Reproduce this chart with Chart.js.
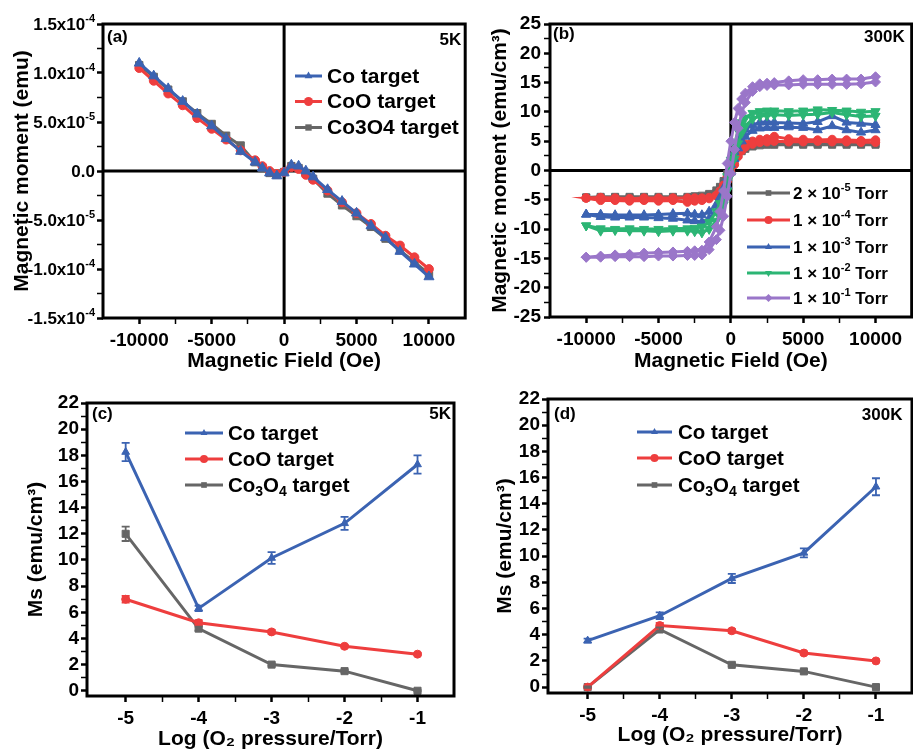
<!DOCTYPE html>
<html><head><meta charset="utf-8">
<script src="https://cdn.jsdelivr.net/npm/chart.js@4.4.1/dist/chart.umd.min.js"></script>
<style>
html,body{margin:0;padding:0;background:#fff;overflow:hidden;width:913px;height:752px;}
canvas{position:absolute;}
</style></head><body>
<canvas id="ca" style="left:0px;top:0px" width="472" height="376"></canvas>
<canvas id="cb" style="left:460px;top:0px" width="458" height="376"></canvas>
<canvas id="cc" style="left:0px;top:380px" width="460" height="372"></canvas>
<canvas id="cd" style="left:460px;top:380px" width="458" height="372"></canvas>
<script>
// ---------------- DATA ----------------
// Panel (a): 5K, magnetic moment (emu) vs field (Oe)
const aField = [-10000,-9000,-8000,-7000,-6000,-5000,-4000,-3000,-2000,-1500,-1000,-500,0,500,1000,1500,2000,3000,4000,5000,6000,7000,8000,9000,10000];
const aCo    = [11.0e-5,9.7e-5,8.4e-5,7.1e-5,5.8e-5,4.6e-5,3.3e-5,2.0e-5,0.9e-5,0.3e-5,-0.2e-5,-0.5e-5,-0.2e-5,0.6e-5,0.5e-5,0.0,-0.6e-5,-1.9e-5,-3.1e-5,-4.3e-5,-5.6e-5,-6.8e-5,-8.2e-5,-9.5e-5,-10.8e-5];
const aCoO   = [10.5e-5,9.2e-5,7.9e-5,6.7e-5,5.4e-5,4.3e-5,3.2e-5,2.1e-5,1.1e-5,0.5e-5,0.0,-0.3e-5,-0.1e-5,0.4e-5,0.2e-5,-0.4e-5,-0.9e-5,-2.0e-5,-3.2e-5,-4.3e-5,-5.4e-5,-6.6e-5,-7.6e-5,-8.8e-5,-10.0e-5];
const aCo3O4 = [10.8e-5,9.6e-5,8.3e-5,7.1e-5,5.9e-5,4.8e-5,3.6e-5,2.6e-5,0.9e-5,0.3e-5,-0.2e-5,-0.4e-5,-0.1e-5,0.5e-5,0.3e-5,-0.2e-5,-0.8e-5,-2.3e-5,-3.5e-5,-4.6e-5,-5.7e-5,-6.9e-5,-8.1e-5,-9.3e-5,-10.5e-5];
const aNames = ['Co target','CoO target','Co3O4 target'];
const aXTicks = [-10000,-7500,-5000,-2500,0,2500,5000,7500,10000];
const aXTickLabels = ['-10000','','-5000','','0','','5000','','10000'];
const aYTicks = [-1.5e-4,-1.25e-4,-1.0e-4,-7.5e-5,-5.0e-5,-2.5e-5,0,2.5e-5,5.0e-5,7.5e-5,1.0e-4,1.25e-4,1.5e-4];
const aYTickMant = ['-1.5x10','','-1.0x10','','-5.0x10','','0.0','','5.0x10','','1.0x10','','1.5x10'];
const aYTickExp  = ['-4','','-4','','-5','','','','-5','','-4','','-4'];

// Panel (b): 300K, emu/cm3 vs field, loops (down branch then up branch)
const bFieldDown = [10000,9000,8000,7000,6000,5000,4000,3000,2500,2000,1500,1000,750,500,250,0,-250,-500,-750,-1000,-1500,-2000,-2500,-3000,-4000,-5000,-6000,-7000,-8000,-9000,-10000];
const bFieldUp   = [-10000,-9000,-8000,-7000,-6000,-5000,-4000,-3000,-2500,-2000,-1500,-1000,-750,-500,-250,0,250,500,750,1000,1500,2000,2500,3000,4000,5000,6000,7000,8000,9000,10000];
const b2e5Down = [4.6,4.6,4.6,4.6,4.6,4.6,4.6,4.7,4.6,4.5,4.3,4.0,3.6,3.0,2.0,0.8,-0.6,-1.8,-2.8,-3.4,-4.0,-4.3,-4.4,-4.5,-4.5,-4.5,-4.5,-4.5,-4.5,-4.5,-4.6];
const b2e5Up   = [-4.6,-4.7,-4.7,-4.7,-4.7,-4.7,-4.7,-4.7,-4.7,-4.6,-4.3,-3.8,-3.2,-2.2,-1.0,0.4,1.6,2.7,3.3,3.7,4.1,4.3,4.4,4.4,4.4,4.4,4.4,4.4,4.4,4.4,4.4];
const b1e4Down = [5.2,5.1,5.2,5.3,5.2,5.3,5.4,5.8,5.4,5.3,5.0,4.5,4.0,3.2,2.0,0.6,-1.0,-2.5,-3.5,-4.2,-4.6,-4.7,-4.7,-4.7,-4.7,-4.7,-4.7,-4.8,-4.7,-4.6,-4.7];
const b1e4Up   = [-4.7,-5.1,-5.1,-5.2,-5.1,-5.2,-5.1,-5.4,-5.2,-5.1,-4.8,-4.3,-3.8,-3.0,-1.8,-0.4,1.0,2.4,3.4,4.0,4.5,4.8,4.9,5.0,4.9,4.9,5.0,4.9,4.9,4.8,4.8];
const b1e3Down = [7.8,8.0,8.2,9.3,8.3,8.0,8.1,8.2,8.3,8.2,7.8,7.0,6.2,5.0,3.2,1.0,-1.2,-3.0,-4.6,-5.8,-7.0,-7.6,-7.5,-7.3,-7.4,-7.5,-7.6,-7.6,-7.6,-7.5,-7.5];
const b1e3Up   = [-7.5,-7.9,-8.0,-8.0,-8.0,-8.1,-8.2,-8.5,-8.6,-8.8,-8.2,-7.0,-6.0,-4.6,-2.6,-0.3,2.0,3.8,5.0,5.8,6.8,7.2,7.3,7.3,7.4,7.3,6.9,7.6,6.9,6.5,6.9];
const b1e2Down = [10.1,10.0,10.2,10.3,10.4,10.2,10.1,10.2,10.2,10.1,9.8,9.0,8.2,6.8,4.5,1.8,-1.0,-3.6,-5.6,-7.0,-8.8,-9.6,-9.8,-9.9,-9.9,-10.0,-10.0,-9.9,-10.0,-9.9,-9.4];
const b1e2Up   = [-9.4,-10.3,-10.2,-10.3,-10.3,-10.4,-10.3,-10.3,-10.4,-10.6,-10.0,-8.6,-7.4,-5.8,-3.5,-0.8,2.0,4.6,6.4,7.6,8.8,9.3,9.4,9.5,9.4,9.5,9.6,9.9,9.5,9.2,9.3];
const b1e1Down = [16.0,15.6,15.6,15.6,15.5,15.5,15.3,15.0,14.9,14.8,14.3,13.2,12.2,10.6,8.2,5.0,1.2,-3.5,-7.0,-9.6,-12.2,-13.6,-13.7,-13.8,-13.9,-14.0,-14.1,-14.3,-14.4,-14.6,-14.8];
const b1e1Up   = [-14.8,-14.8,-14.7,-14.7,-14.7,-14.6,-14.6,-14.5,-14.5,-14.4,-13.5,-11.8,-10.2,-7.8,-4.4,-0.5,3.6,7.2,9.8,11.6,13.5,14.3,14.5,14.6,14.6,14.7,14.7,14.7,14.7,14.8,15.1];
const bMantissa = ['2','1','1','1','1'];
const bExponent = ['-5','-4','-3','-2','-1'];
const bXTicks = [-10000,-7500,-5000,-2500,0,2500,5000,7500,10000];
const bXTickLabels = ['-10000','','-5000','','0','','5000','','10000'];
const bYTicks = [-25,-22.5,-20,-17.5,-15,-12.5,-10,-7.5,-5,-2.5,0,2.5,5,7.5,10,12.5,15,17.5,20,22.5,25];
const bYTickLabels = ['-25','','-20','','-15','','-10','','-5','','0','','5','','10','','15','','20','','25'];

// Panels (c) 5K and (d) 300K: Ms vs log(O2 pressure)
const logP = [-5,-4,-3,-2,-1];
const cCo       = [18.25,6.3,10.15,12.8,17.3];
const cCoErr    = [0.7,0.2,0.45,0.5,0.7];
const cCoO      = [7.0,5.2,4.5,3.4,2.8];
const cCoOErr   = [0.25,0.2,0.15,0.1,0.1];
const cCo3O4    = [12.0,4.75,2.0,1.5,0.0];
const cCo3O4Err = [0.55,0.15,0.1,0.1,0.05];
const dCo       = [3.55,5.45,8.3,10.25,15.3];
const dCoErr    = [0.15,0.25,0.35,0.35,0.65];
const dCoO      = [0.0,4.7,4.3,2.6,2.0];
const dCoOErr   = [0.05,0.2,0.15,0.1,0.1];
const dCo3O4    = [0.0,4.4,1.7,1.2,0.0];
const dCo3O4Err = [0.05,0.15,0.1,0.1,0.05];
const cdXTicks = [-5,-4.5,-4,-3.5,-3,-2.5,-2,-1.5,-1];
const cdXTickLabels = ['-5','','-4','','-3','','-2','','-1'];
const cdYTicks = [0,1,2,3,4,5,6,7,8,9,10,11,12,13,14,15,16,17,18,19,20,21,22];
const cdYTickLabels = ['0','','2','','4','','6','','8','','10','','12','','14','','16','','18','','20','','22'];

// ---------------- STYLE ----------------
const FONT = '"Liberation Sans", Arial, Helvetica, sans-serif';
const BLUE = '#3b63b2', RED = '#ee3e3e', GRAY = '#666666', GREEN = '#2cb574', PURPLE = '#9a76c9';
const SUP = {'-': '\u207B', '0': '\u2070', '1': '\u00B9', '2': '\u00B2', '3': '\u00B3', '4': '\u2074', '5': '\u2075'};

function pts(xs, ys) { return xs.map((x, i) => ({x: x, y: ys[i]})); }

function mkScale(o) {
  return {
    type: 'linear', min: o.min, max: o.max, position: o.pos,
    afterBuildTicks: s => { s.ticks = o.ticks.map(v => ({value: v})); },
    afterFit: s => { if (o.pos === 'left') s.width = o.size; else s.height = o.size; },
    ticks: { callback: (v, i) => o.labels[i], color: o.hideLabels ? 'rgba(0,0,0,0)' : '#000', autoSkip: false, maxRotation: 0, minRotation: 0,
      font: {family: FONT, weight: 'bold', size: o.tickSize || 19}, padding: o.tickPad },
    grid: { display: true, drawOnChartArea: false, drawTicks: true, tickLength: 6, tickColor: '#000',
      tickWidth: c => (c.tick && c.tick.label === '') ? 1.5 : 2.5 },
    border: { display: false },
    title: { display: true, text: o.title, color: '#000', font: {family: FONT, weight: 'bold', size: 21}, padding: o.titlePad }
  };
}

function ds(data, color, style, o) {
  o = o || {};
  return Object.assign({
    data: data, borderColor: color, backgroundColor: color, showLine: true,
    borderWidth: o.bw || 2.5, pointStyle: style, pointRadius: o.r || 4.5, pointBorderWidth: 1,
    pointBackgroundColor: color, pointBorderColor: color, pointRotation: o.rot || 0
  }, o.extra || {});
}

function drawMarker(ctx, style, rot, x, y, r, color) {
  ctx.save(); ctx.fillStyle = color; ctx.beginPath();
  if (style === 'circle') ctx.arc(x, y, r, 0, Math.PI * 2);
  else if (style === 'rect') { const s = r * Math.SQRT1_2; ctx.rect(x - s, y - s, 2 * s, 2 * s); }
  else if (style === 'rectRot') { ctx.moveTo(x, y - r); ctx.lineTo(x + r, y); ctx.lineTo(x, y + r); ctx.lineTo(x - r, y); ctx.closePath(); }
  else if (style === 'triangle') {
    const sgn = rot === 180 ? -1 : 1;
    ctx.moveTo(x, y - sgn * r); ctx.lineTo(x + r * 0.866, y + sgn * r * 0.5); ctx.lineTo(x - r * 0.866, y + sgn * r * 0.5); ctx.closePath();
  }
  ctx.fill(); ctx.restore();
}

function segFont(s, size) { return 'bold ' + ((s.sup || s.sub) ? Math.round(size * 0.66) : size) + 'px ' + FONT; }
function richWidth(ctx, segs, size) {
  let w = 0;
  for (const s of segs) { ctx.font = segFont(s, size); w += ctx.measureText(s.t).width; }
  return w;
}
function drawRich(ctx, segs, x, y, size) {
  for (const s of segs) {
    ctx.font = segFont(s, size);
    const dy = s.sup ? -size * 0.38 : (s.sub ? size * 0.3 : 0);
    ctx.fillText(s.t, x, y + dy);
    x += ctx.measureText(s.t).width;
  }
}

const panelPlugin = {
  id: 'panel',
  beforeDatasetsDraw(chart, args, o) {
    if (!o.zero) return;
    const ctx = chart.ctx, a = chart.chartArea, x = chart.scales.x, y = chart.scales.y;
    ctx.save(); ctx.strokeStyle = '#000'; ctx.lineWidth = 3;
    const px = x.getPixelForValue(0), py = y.getPixelForValue(0);
    ctx.beginPath(); ctx.moveTo(px, a.top); ctx.lineTo(px, a.bottom);
    ctx.moveTo(a.left, py); ctx.lineTo(a.right, py); ctx.stroke(); ctx.restore();
  },
  afterDatasetsDraw(chart, args, o) {
    const ctx = chart.ctx, a = chart.chartArea, y = chart.scales.y;
    chart.data.datasets.forEach((d, i) => {
      if (!d.errors) return;
      const meta = chart.getDatasetMeta(i);
      ctx.save(); ctx.strokeStyle = d.borderColor; ctx.lineWidth = 1.8;
      meta.data.forEach((p, j) => {
        const e = d.errors[j]; if (!e) return;
        const v = d.data[j].y;
        const y1 = y.getPixelForValue(v + e), y2 = y.getPixelForValue(v - e);
        ctx.beginPath(); ctx.moveTo(p.x, y1); ctx.lineTo(p.x, y2);
        ctx.moveTo(p.x - 4, y1); ctx.lineTo(p.x + 4, y1);
        ctx.moveTo(p.x - 4, y2); ctx.lineTo(p.x + 4, y2); ctx.stroke();
      });
      ctx.restore();
    });
    ctx.save();
    ctx.strokeStyle = '#000'; ctx.lineWidth = 3;
    ctx.strokeRect(a.left, a.top, a.right - a.left, a.bottom - a.top);
    ctx.fillStyle = '#000'; ctx.font = 'bold 17px ' + FONT; ctx.textBaseline = 'middle';
    ctx.textAlign = 'left'; ctx.fillText(o.label, a.left + o.lx, a.top + o.ly);
    ctx.textAlign = 'right'; ctx.fillText(o.temp, a.right - o.tx, a.top + o.ty);
    ctx.textAlign = 'left';
    // rich y tick labels (mantissa x 10^exp), placed at the scale's own tick pixels
    if (o.richY) {
      const R = o.richY;
      y.ticks.forEach((t, i) => {
        if (!R.mant[i]) return;
        const segs = [{t: R.mant[i]}];
        if (R.exp[i]) segs.push({t: R.exp[i], sup: true});
        const w = richWidth(ctx, segs, R.size);
        ctx.fillStyle = '#000';
        drawRich(ctx, segs, R.right - w, y.getPixelForValue(t.value) + 1, R.size);
      });
    }
    const L = o.legend;
    L.items.forEach((it, k) => {
      const d = chart.data.datasets[it.ds];
      const yy = L.ys[k];
      ctx.strokeStyle = d.borderColor; ctx.lineWidth = 3;
      ctx.beginPath(); ctx.moveTo(L.x1, yy); ctx.lineTo(L.x2, yy); ctx.stroke();
      drawMarker(ctx, d.pointStyle, d.pointRotation, (L.x1 + L.x2) / 2, yy, L.mr, d.borderColor);
      ctx.fillStyle = '#000';
      drawRich(ctx, it.segs, L.tx, yy + 1, L.size);
    });
    ctx.restore();
  }
};

function baseOpts(pad, scales, panel) {
  return {
    responsive: false, animation: false, devicePixelRatio: 1,
    layout: { padding: pad },
    plugins: { legend: {display: false}, tooltip: {enabled: false}, panel: panel },
    scales: scales,
    elements: { line: { tension: 0 } }
  };
}

// ---------------- (a) ----------------
const aYTickLabels = aYTickMant.map((m, i) => m + aYTickExp[i].split('').map(c => SUP[c]).join(''));
new Chart(document.getElementById('ca'), {
  type: 'scatter',
  data: { datasets: [
    ds(pts(aField, aCo), BLUE, 'triangle', {r: 5.8, bw: 3}),
    ds(pts(aField, aCoO), RED, 'circle', {r: 4.4, bw: 3}),
    ds(pts(aField, aCo3O4), GRAY, 'rect', {r: 5.2, bw: 3})
  ]},
  options: baseOpts({left: 0, top: 24, right: 3, bottom: 0}, {
    x: mkScale({min: -12500, max: 12500, pos: 'bottom', ticks: aXTicks, labels: aXTickLabels, size: 58, tickPad: 5, title: 'Magnetic Field (Oe)', titlePad: {top: 0, bottom: 2}}),
    y: mkScale({min: -1.5e-4, max: 1.5e-4, pos: 'left', ticks: aYTicks, labels: aYTickLabels, size: 103, tickPad: 2, tickSize: 17, hideLabels: true, title: 'Magnetic moment (emu)', titlePad: {top: 10, bottom: 0}})
  }, { zero: true, label: '(a)', lx: 4, ly: 13.5, temp: '5K', tx: 4, ty: 16.5,
       richY: { mant: aYTickMant, exp: aYTickExp, size: 17, right: 95 },
       legend: { x1: 295, x2: 322, tx: 327, ys: [76, 101.5, 127.5], size: 21, mr: 4.5,
         items: [ {ds: 0, segs: [{t: aNames[0]}]}, {ds: 1, segs: [{t: aNames[1]}]}, {ds: 2, segs: [{t: aNames[2]}]} ] } }),
  plugins: [panelPlugin]
});

// ---------------- (b) ----------------
function loop(down, up) { return pts(bFieldDown, down).concat(pts(bFieldUp, up)); }
new Chart(document.getElementById('cb'), {
  type: 'scatter',
  data: { datasets: [
    ds(loop(b2e5Down, b2e5Up), GRAY, 'rect', {r: 5, bw: 3, extra: {order: 4}}),
    ds(loop(b1e4Down, b1e4Up), RED, 'circle', {r: 4.2, bw: 3, extra: {order: 3}}),
    ds(loop(b1e3Down, b1e3Up), BLUE, 'triangle', {r: 5.3, bw: 3, extra: {order: 2}}),
    ds(loop(b1e2Down, b1e2Up), GREEN, 'triangle', {r: 5.3, bw: 3, rot: 180, extra: {order: 1}}),
    ds(loop(b1e1Down, b1e1Up), PURPLE, 'rectRot', {r: 5, bw: 3, extra: {order: 0}})
  ]},
  options: baseOpts({left: 0, top: 24, right: 3, bottom: 0}, {
    x: mkScale({min: -12500, max: 12500, pos: 'bottom', ticks: bXTicks, labels: bXTickLabels, size: 59, tickPad: 5, title: 'Magnetic Field (Oe)', titlePad: {top: 0, bottom: 2}}),
    y: mkScale({min: -25, max: 25, pos: 'left', ticks: bYTicks, labels: bYTickLabels, size: 90, tickPad: 3, title: 'Magnetic moment (emu/cm\u00B3)', titlePad: {top: 28, bottom: 0}})
  }, { zero: true, label: '(b)', lx: 3, ly: 10.5, temp: '300K', tx: 7, ty: 13,
       legend: { x1: 287, x2: 330, tx: 333, ys: [193, 220, 247, 273, 298], size: 17, mr: 4,
         items: [0,1,2,3,4].map(i => ({ds: i, segs: [{t: bMantissa[i] + ' \u00D7 10'}, {t: bExponent[i], sup: true}, {t: ' Torr'}]})) } }),
  plugins: [panelPlugin]
});

// ---------------- (c) & (d) ----------------
function msChart(id, co, coE, coo, cooE, c34, c34E, pad, xs, ys, yTitlePad, xTitlePad, ymin, xmin, lab, leg) {
  new Chart(document.getElementById(id), {
    type: 'scatter',
    data: { datasets: [
      ds(pts(logP, co), BLUE, 'triangle', {r: 4.5, bw: 3, extra: {errors: coE}}),
      ds(pts(logP, coo), RED, 'circle', {r: 4, bw: 3, extra: {errors: cooE}}),
      ds(pts(logP, c34), GRAY, 'rect', {r: 5, bw: 3, extra: {errors: c34E}})
    ]},
    options: baseOpts(pad, {
      x: mkScale({min: xmin, max: -0.5, pos: 'bottom', ticks: cdXTicks, labels: cdXTickLabels, size: xs, tickPad: 5, title: 'Log (O\u2082 pressure/Torr)', titlePad: xTitlePad}),
      y: mkScale({min: ymin, max: 22, pos: 'left', ticks: cdYTicks, labels: cdYTickLabels, size: ys, tickPad: 2, title: 'Ms (emu/cm\u00B3)', titlePad: yTitlePad})
    }, Object.assign({ zero: false, legend: leg }, lab)),
    plugins: [panelPlugin]
  });
}
const cdLegendItems = [
  {ds: 0, segs: [{t: 'Co target'}]},
  {ds: 1, segs: [{t: 'CoO target'}]},
  {ds: 2, segs: [{t: 'Co'}, {t: '3', sub: true}, {t: 'O'}, {t: '4', sub: true}, {t: ' target'}]}
];
msChart('cc', cCo, cCoErr, cCoO, cCoOErr, cCo3O4, cCo3O4Err, {left: 0, top: 23, right: 5, bottom: 0}, 56, 87,
  {top: 24, bottom: 0}, {top: 0, bottom: 0}, -0.4, -5.53,
  {label: '(c)', lx: 5, ly: 11.5, temp: '5K', tx: 3, ty: 11},
  {x1: 185, x2: 223, tx: 228, ys: [53, 79, 105], size: 20.5, mr: 4, items: cdLegendItems});
msChart('cd', dCo, dCoErr, dCoO, dCoOErr, dCo3O4, dCo3O4Err, {left: 0, top: 19, right: 2, bottom: 0}, 59, 88,
  {top: 33, bottom: 0}, {top: 0, bottom: 4}, -0.45, -5.55,
  {label: '(d)', lx: 6, ly: 15.5, temp: '300K', tx: 9.5, ty: 16},
  {x1: 177, x2: 212, tx: 218, ys: [52, 78, 105], size: 20.5, mr: 4, items: cdLegendItems});
</script>
</body></html>
